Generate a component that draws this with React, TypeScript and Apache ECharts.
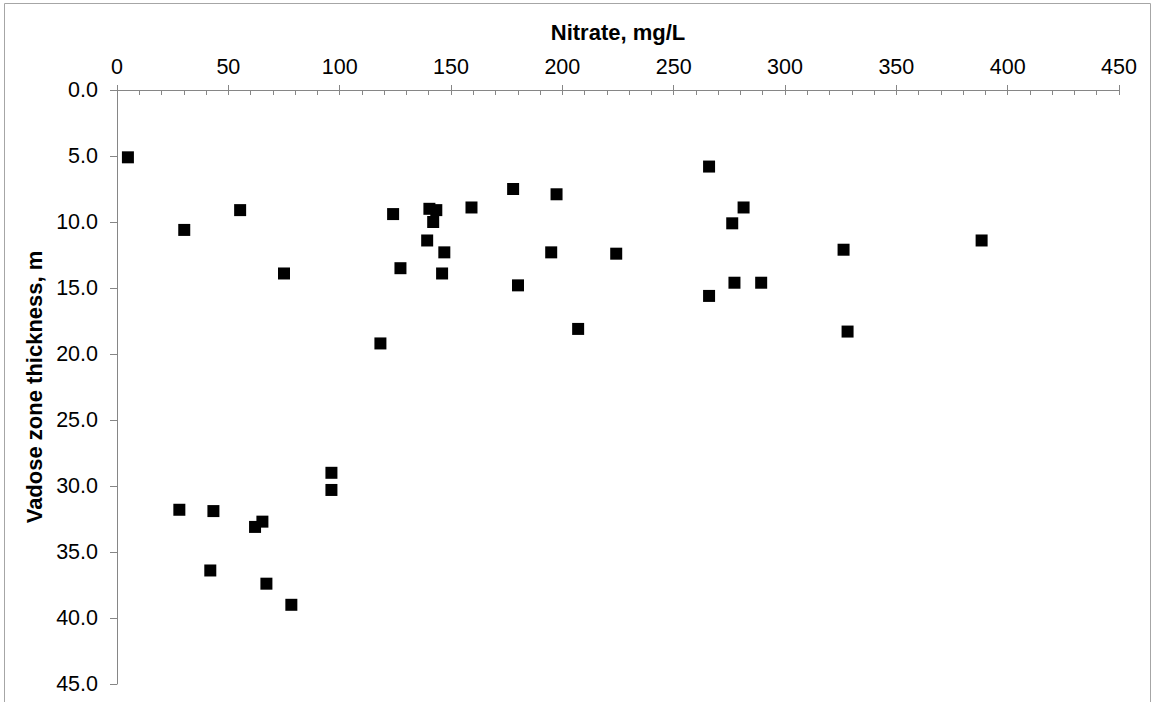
import React, { useEffect, useRef } from "react";
import * as echarts from "echarts";

const nitrate: number[] = [
  4.9, 30.2, 55.3, 75.0, 118.3, 124.0, 127.3, 140.3, 143.4, 142.0, 139.3, 147.0, 146.0,
  159.2, 177.9, 197.4, 195.0, 224.2, 180.1, 207.1, 265.9, 281.4, 276.3, 277.3, 289.3,
  265.9, 326.3, 328.1, 388.3, 96.3, 96.3, 28.0, 43.3, 65.3, 62.0, 41.9, 67.1, 78.3,
];
const vadose: number[] = [
  5.1, 10.6, 9.1, 13.9, 19.2, 9.4, 13.5, 9.0, 9.1, 10.0, 11.4, 12.3, 13.9,
  8.9, 7.5, 7.9, 12.3, 12.4, 14.8, 18.1, 5.8, 8.9, 10.1, 14.6, 14.6,
  15.6, 12.1, 18.3, 11.4, 29.0, 30.3, 31.8, 31.9, 32.7, 33.1, 36.4, 37.4, 39.0,
];

const xTitle = "Nitrate, mg/L";
const yTitle = "Vadose zone thickness, m";

export default function App() {
  const ref = useRef<HTMLDivElement>(null);
  useEffect(() => {
    if (!ref.current) return;
    const chart = echarts.init(ref.current, undefined, { renderer: "svg" });
    const points = nitrate.map((x, i) => [x, vadose[i]]);
    const axisColor = "#868686";
    const font = "'Liberation Sans', Arial, sans-serif";
    chart.setOption({
      animation: false,
      backgroundColor: "#ffffff",
      grid: { left: 117, top: 90, width: 1002, height: 594, containLabel: false },
      graphic: [
        {
          type: "rect",
          shape: { x: 4.5, y: 3.5, width: 1146, height: 720 },
          style: { fill: "none", stroke: "#a6a6a6", lineWidth: 1 },
          silent: true,
        },
      ],
      xAxis: [
        {
          type: "value",
          position: "top",
          min: 0,
          max: 450,
          interval: 50,
          name: xTitle,
          nameLocation: "middle",
          nameGap: 47,
          nameTextStyle: { fontFamily: font, fontSize: 22, fontWeight: "bold", color: "#000" },
          axisLine: { show: true, lineStyle: { color: axisColor, width: 1 } },
          axisTick: { show: true, inside: true, length: 5, lineStyle: { color: axisColor } },
          minorTick: { show: true, splitNumber: 5, length: 5, lineStyle: { color: axisColor } },
          axisLabel: { fontFamily: font, fontSize: 21.5, color: "#000", margin: 12 },
          splitLine: { show: false },
          minorSplitLine: { show: false },
        },
        {
          type: "value",
          position: "top",
          min: 0,
          max: 450,
          interval: 50,
          axisLine: { show: false },
          axisTick: { show: true, inside: false, length: 5, lineStyle: { color: axisColor } },
          axisLabel: { show: false },
          splitLine: { show: false },
        },
      ],
      yAxis: {
        type: "value",
        inverse: true,
        min: 0,
        max: 45,
        interval: 5,
        name: yTitle,
        nameLocation: "middle",
        nameGap: 66,
        nameTextStyle: { fontFamily: font, fontSize: 22, fontWeight: "bold", color: "#000" },
        axisLine: { show: true, lineStyle: { color: axisColor, width: 1 } },
        axisTick: { show: true, inside: false, length: 7, lineStyle: { color: axisColor } },
        axisLabel: {
          fontFamily: font,
          fontSize: 21.5,
          color: "#000",
          margin: 19,
          formatter: (v: number) => v.toFixed(1),
        },
        splitLine: { show: false },
      },
      series: [
        {
          type: "scatter",
          xAxisIndex: 0,
          data: points,
          symbol: "rect",
          symbolSize: 12,
          itemStyle: { color: "#000000", opacity: 1 },
        },
      ],
    });
    return () => chart.dispose();
  }, []);
  return (
    <div
      ref={ref}
      style={{ position: "fixed", left: 0, top: 0, width: 1156, height: 702 }}
    />
  );
}
